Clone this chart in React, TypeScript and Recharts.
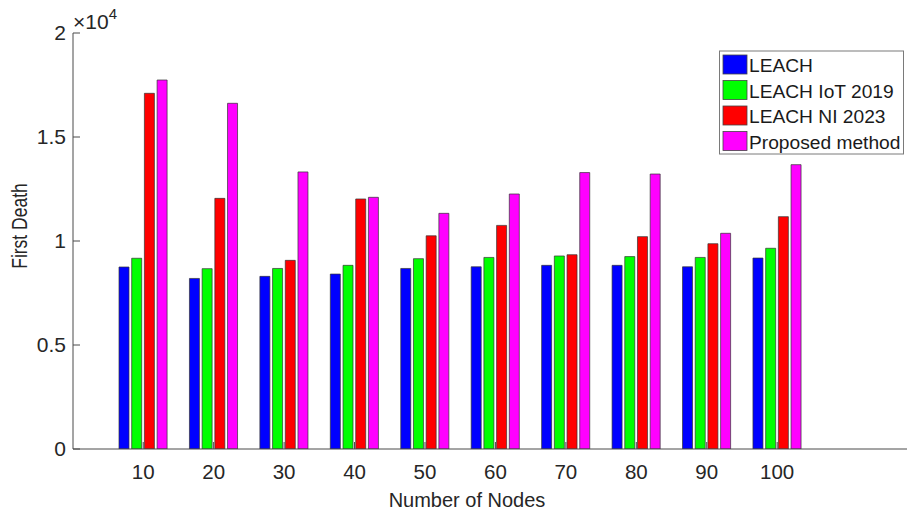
import React from 'react';
import { BarChart, Bar, XAxis, YAxis } from 'recharts';

const categories = ['10', '20', '30', '40', '50', '60', '70', '80', '90', '100'];
const leach = [8750, 8200, 8300, 8410, 8680, 8760, 8830, 8830, 8760, 9180];
const leachIoT = [9170, 8670, 8680, 8830, 9150, 9210, 9280, 9250, 9210, 9650];
const leachNI = [17100, 12050, 9070, 12020, 10250, 10750, 9340, 10210, 9870, 11170];
const proposed = [17740, 16620, 13320, 12100, 11330, 12260, 13290, 13220, 10370, 13670];
const yTicks = [0, 5000, 10000, 15000, 20000];

const seriesNames = ['LEACH', 'LEACH IoT 2019', 'LEACH NI 2023', 'Proposed method'];
const seriesKeys = ['leach', 'iot', 'ni', 'proposed'];
const seriesColors = ['#0000ff', '#00ff00', '#ff0000', '#ff00ff'];

const data = categories.map((c, i) => ({
  name: c,
  leach: leach[i],
  iot: leachIoT[i],
  ni: leachNI[i],
  proposed: proposed[i],
}));

const FONT = '"Liberation Sans", Arial, Helvetica, sans-serif';
const TXT = '#262626';
const AX = '#4a4a4a';

const Legendbox = () => (
  <g>
    <rect x={719.5} y={51} width={184} height={103} fill="#ffffff" stroke="#7a7a7a" strokeWidth={1} />
    {seriesNames.map((n, i) => (
      <g key={n}>
        <rect x={723} y={55 + i * 25.5} width={24} height={19} fill={seriesColors[i]} stroke="#444" strokeWidth={0.8} />
        <text x={749} y={72 + i * 25.5} fontSize={19.2} fontFamily={FONT} fill="#1a1a1a">{n}</text>
      </g>
    ))}
  </g>
);

export default function App() {
  return (
    <div style={{ position: 'absolute', left: 0, top: 0, width: 907, height: 513, overflow: 'hidden', background: '#fff' }}>
      <BarChart
        width={930}
        height={513}
        data={data}
        margin={{ top: 33, right: 12, bottom: 0, left: 0 }}
        barGap={2.7}
      >
        <XAxis
          dataKey="name"
          height={64}
          padding={{ left: 35, right: 105.6 }}
          stroke={AX}
          tickSize={-7}
          tickMargin={22}
          tick={{ fill: TXT, fontSize: 20.5, fontFamily: FONT }}
          interval={0}
        />
        <XAxis
          xAxisId="top"
          orientation="top"
          dataKey="name"
          height={0}
          padding={{ left: 35, right: 105.6 }}
          stroke={AX}
          tickSize={-7}
          tick={false}
          interval={0}
        />
        <YAxis
          width={73}
          domain={[0, 20000]}
          ticks={yTicks}
          tickFormatter={(v: number) => String(v / 10000)}
          stroke={AX}
          tickSize={-7}
          tickMargin={14}
          tick={{ fill: TXT, fontSize: 21, fontFamily: FONT }}
          allowDataOverflow
        />
        {seriesKeys.map((k, i) => (
          <Bar
            key={k}
            dataKey={k}
            name={seriesNames[i]}
            fill={seriesColors[i]}
            stroke="#333"
            strokeWidth={0.7}
            barSize={10}
            isAnimationActive={false}
          />
        ))}
        <text x={73} y={28.5} fontSize={21} fontFamily={FONT} fill={TXT}>
          ×10<tspan fontSize={15} dy={-10}>4</tspan>
        </text>
        <text x={467} y={507} fontSize={20} fontFamily={FONT} fill={TXT} textAnchor="middle">Number of Nodes</text>
        <text transform="translate(27,226) rotate(-90) scale(1,1.22)" fontSize={17.5} fontFamily={FONT} fill={TXT} textAnchor="middle">First Death</text>
        <Legendbox />
      </BarChart>
    </div>
  );
}
